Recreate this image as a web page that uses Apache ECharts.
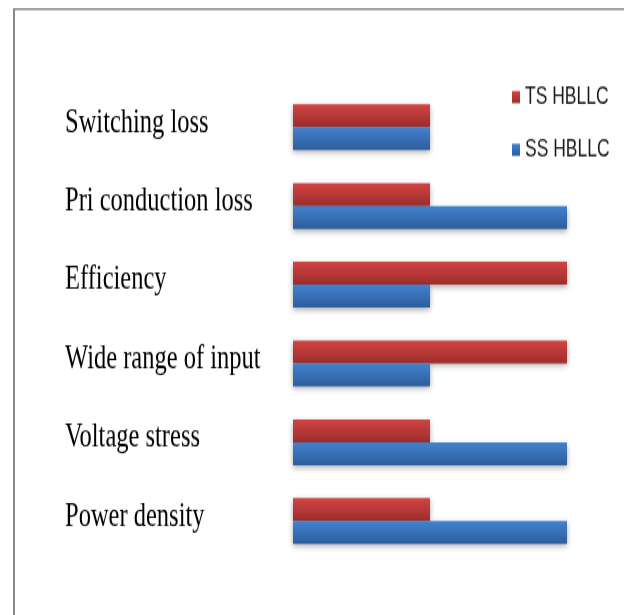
<!DOCTYPE html>
<html>
<head>
<meta charset="utf-8">
<script src="https://cdn.jsdelivr.net/npm/echarts@6/dist/echarts.min.js"></script>
<style>
html,body{margin:0;padding:0;background:#fff;overflow:hidden;}
#wrap{width:624px;height:615px;overflow:hidden;}
#chart{width:624px;height:456px;transform:scaleY(1.34868);transform-origin:0 0;}
</style>
</head>
<body>
<div id="wrap"><div id="chart"></div></div>
<script>
const categories = ['Switching loss', 'Pri conduction loss', 'Efficiency', 'Wide range of input', 'Voltage stress', 'Power density'];
const tsValues = [1, 1, 2, 2, 1, 1];
const ssValues = [1, 2, 1, 1, 2, 2];
const seriesNames = ['TS HBLLC', 'SS HBLLC'];

const chart = echarts.init(document.getElementById('chart'));
function grad(top, bottom) {
  return new echarts.graphic.LinearGradient(0, 0, 0, 1, [
    {offset: 0, color: top}, {offset: 1, color: bottom}
  ]);
}
const barStyle = (c1, c2) => ({
  color: grad(c1, c2),
  shadowColor: 'rgba(0,0,0,0.35)',
  shadowBlur: 5,
  shadowOffsetY: 2
});
chart.setOption({
  animation: false,
  backgroundColor: '#fff',
  graphic: [
    {type: 'line', shape: {x1: 13, y1: 6.7, x2: 624, y2: 6.7}, style: {stroke: '#888', lineWidth: 1.5}},
    {type: 'line', shape: {x1: 14, y1: 6, x2: 14, y2: 456}, style: {stroke: '#888', lineWidth: 2}}
  ],
  legend: {
    orient: 'vertical',
    left: 507,
    top: 58,
    itemWidth: 8,
    itemHeight: 9,
    itemGap: 21,
    icon: 'rect',
    textStyle: {fontFamily: '"Liberation Sans", Arial, sans-serif', fontSize: 17.5, color: '#1a1a1a'},
    data: seriesNames
  },
  grid: {left: 293, right: 57, top: 65, bottom: 40.5, containLabel: false},
  xAxis: {
    type: 'value', min: 0, max: 2, show: false
  },
  yAxis: {
    type: 'category', data: categories, inverse: true,
    axisLine: {show: false}, axisTick: {show: false},
    axisLabel: {
      align: 'left', margin: 228,
      formatter: '{t|{value}}',
      rich: {
        t: {
          fontFamily: '"Liberation Serif", "Times New Roman", serif',
          fontSize: 24.5, color: '#000',
          padding: [0, 0, 6, 0]
        }
      }
    }
  },
  series: [
    {name: seriesNames[0], type: 'bar', data: tsValues, barWidth: 17, barGap: '0%',
      itemStyle: barStyle('#d24443', '#9c2e2c')},
    {name: seriesNames[1], type: 'bar', data: ssValues, barWidth: 17, barGap: '0%',
      itemStyle: barStyle('#4282d0', '#2d5d9c')}
  ]
});
</script>
</body>
</html>
